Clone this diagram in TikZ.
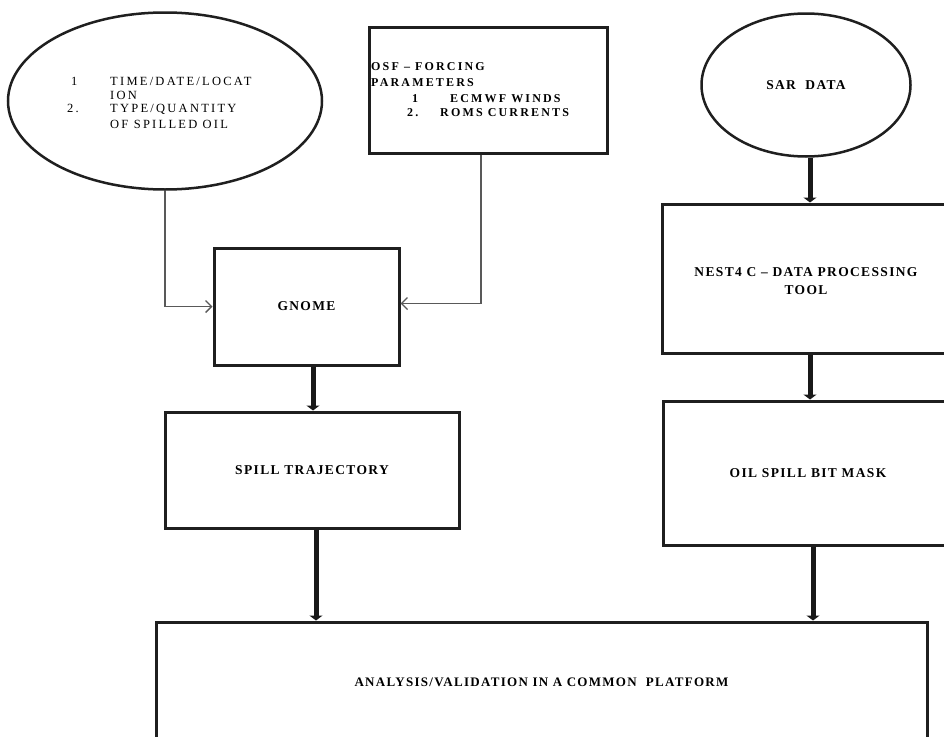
\documentclass[tikz,border=0pt]{standalone}
\usepackage{fontspec}
\setmainfont{Liberation Serif}
\newfontfamily\fa[LetterSpace=10,Ligatures=TeX]{Liberation Serif}
\newfontfamily\fb[LetterSpace=18,Ligatures=TeX]{Liberation Serif}
\usetikzlibrary{shapes.geometric,arrows.meta}
\tikzset{
  box/.style={draw=black!88, line width=3pt, rectangle, inner sep=0pt, align=center,
    font=\fa\bfseries\fontsize{13.5}{18}\selectfont},
  oval/.style={draw=black!88, line width=2.5pt, ellipse, inner sep=0pt, align=center,
    font=\fa\bfseries\fontsize{13.5}{18}\selectfont},
  txt/.style={inner sep=0pt, anchor=base west, font=\fb\fontsize{12.5}{15}\selectfont},
  txtb/.style={inner sep=0pt, anchor=base west, font=\fb\bfseries\fontsize{12}{15}\selectfont},
  thick arrow/.style={draw=black!90, line width=5pt, -{Triangle[width=13pt,length=5pt]}},
  thin arrow/.style={draw=black!65, line width=1.4pt, -{Straight Barb[length=6pt,width=12pt]}},
}
\begin{document}
\begin{tikzpicture}[x=1pt,y=-1pt]
\useasboundingbox (0,0) rectangle (944,736);
\clip (0,0) rectangle (944,736);
\fill[white] (0,0) rectangle (944,736);

% nodes
\node[oval, minimum width=314pt, minimum height=177pt] (inp) at (165,101) {};
\node[txt] (i1) at (71,85) {1};
\node[txt] (i1t) at (110,85) {TIME/DATE/LOCAT};
\node[txt] (i1u) at (110,99.5) {ION};
\node[txt] (i2) at (67,112.5) {2.};
\node[txt] (i2t) at (110,112.5) {TYPE/QUANTITY};
\node[txt] (i2u) at (110,128) {OF SPILLED OIL};

\node[box, minimum width=238pt, minimum height=126pt] (osf) at (488,90) {};
\node[txtb] (o1) at (371,70) {OSF \textendash\ FORCING};
\node[txtb] (o2) at (371,86) {PARAMETERS};
\node[txtb] (o3) at (412,102) {1};
\node[txtb] (o3t) at (450,102) {ECMWF WINDS};
\node[txtb] (o4) at (407,116) {2.};
\node[txtb] (o4t) at (440,116) {ROMS CURRENTS};

\node[oval, minimum width=209pt, minimum height=143pt] (sar) at (806,85) {SAR~~DATA};

\node[box, minimum width=185pt, minimum height=117pt] (gnome) at (306.5,306.5) {GNOME};
\node[box, minimum width=294pt, minimum height=116pt] (spill) at (312,470) {SPILL TRAJECTORY};
\node[box, minimum width=288pt, minimum height=149pt] (nest) at (806,278.5) {\raisebox{-16pt}[0pt][0pt]{\shortstack{NEST4 C \textendash\ DATA PROCESSING\\[6pt]TOOL}}};
\node[box, minimum width=290pt, minimum height=144pt] (oil) at (808,473) {OIL SPILL BIT MASK};
\node[box, minimum width=771pt, minimum height=120pt, font=\fa\bfseries\fontsize{13}{16}\selectfont] (ana) at (541.5,682) {ANALYSIS/VALIDATION IN A COMMON~~PLATFORM};

% connectors
\draw[thin arrow] (inp.south) |- (gnome.west);
\draw[thin arrow] ([xshift=-7pt]osf.south) |- ([yshift=3pt]gnome.east);
\draw[thick arrow] ([xshift=4pt]sar.south) -- ([xshift=4pt]nest.north);
\draw[thick arrow] ([xshift=4pt]nest.south) -- ([xshift=2pt]oil.north);
\draw[thick arrow] ([xshift=6.5pt]gnome.south) -- ([xshift=1pt]spill.north);
\draw[thick arrow] ([xshift=4pt]spill.south) -- ([xshift=4pt]spill.south |- ana.north);
\draw[thick arrow] ([xshift=5pt]oil.south) -- ([xshift=5pt]oil.south |- ana.north);
\end{tikzpicture}
\end{document}
